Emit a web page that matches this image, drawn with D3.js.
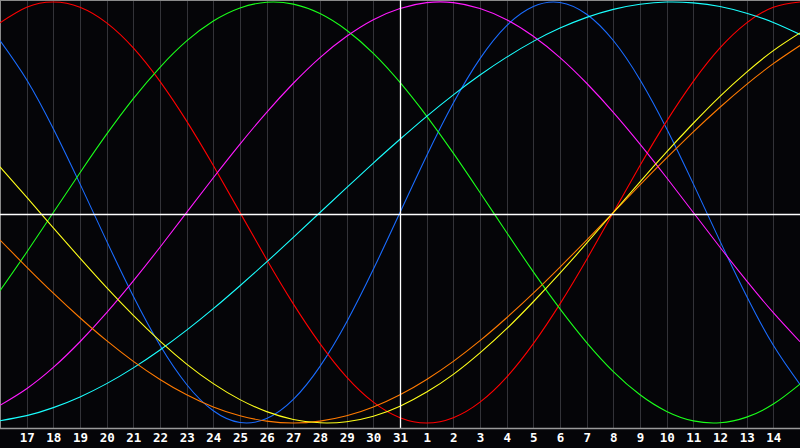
<!DOCTYPE html>
<html>
<head>
<meta charset="utf-8">
<script src="https://cdn.jsdelivr.net/npm/d3@7"></script>
<style>
  html, body { margin: 0; padding: 0; background: #000; }
  svg { display: block; }
</style>
</head>
<body>
<svg id="chart" width="800" height="448"></svg>
<script>
// Day index 0..30 (x=0 is the 16th, x=800 is the 15th of next month)
const dayIndex = d3.range(0, 31);
const dayLabels = ["17","18","19","20","21","22","23","24","25","26","27","28","29","30","31",
                   "1","2","3","4","5","6","7","8","9","10","11","12","13","14"];
const todayIndex = 15; // the "31" marker

// Values in percent for each day index 0..30
const physical = [81.7,63.1,39.8,13.6,-13.6,-39.8,-63.1,-81.7,-94.2,-99.8,-97.9,-88.8,-73.1,-52.0,-27.0,0,27.0,52.0,73.1,88.8,97.9,99.8,94.2,81.7,63.1,39.8,13.6,-13.6,-39.8,-63.1,-81.7];
const emotional = [90.1,97.5,100,97.5,90.1,78.2,62.3,43.4,22.3,0,-22.3,-43.4,-62.3,-78.2,-90.1,-97.5,-100,-97.5,-90.1,-78.2,-62.3,-43.4,-22.3,0,22.3,43.4,62.3,78.2,90.1,97.5,100];
const intellectual = [-37.2,-18.9,0,18.9,37.2,54.1,69.0,81.5,91.0,97.2,99.9,99.0,94.5,86.6,75.6,61.8,45.8,28.2,9.5,-9.5,-28.2,-45.8,-61.8,-75.6,-86.6,-94.5,-99.0,-99.9,-97.2,-91.0,-81.5];
const intuitive = [-91.6,-83.7,-73.6,-61.4,-47.6,-32.5,-16.5,0,16.5,32.5,47.6,61.4,73.6,83.7,91.6,96.9,99.7,99.7,96.9,91.6,83.7,73.6,61.4,47.6,32.5,16.5,0,-16.5,-32.5,-47.6,-61.4];
const aesthetic = [21.7,7.3,-7.3,-21.7,-35.7,-48.9,-61.1,-72.0,-81.3,-88.9,-94.6,-98.3,-99.9,-99.4,-96.8,-92.0,-85.3,-76.9,-66.7,-55.2,-42.4,-28.8,-14.6,0,14.6,28.8,42.4,55.2,66.7,76.9,85.3];
const awareness = [-13.1,-25.9,-38.3,-50,-60.9,-70.7,-79.3,-86.6,-92.4,-96.6,-99.1,-100,-99.1,-96.6,-92.4,-86.6,-79.3,-70.7,-60.9,-50,-38.3,-25.9,-13.1,0,13.1,25.9,38.3,50,60.9,70.7,79.3];
const spiritual = [-98.9,-96.5,-92.7,-87.6,-81.3,-73.8,-65.3,-55.9,-45.7,-34.8,-23.5,-11.8,0,11.8,23.5,34.8,45.7,55.9,65.3,73.8,81.3,87.6,92.7,96.5,98.9,100.0,99.6,97.9,94.7,90.3,84.6];

const seriesList = [
  {name: "physical", values: physical, color: "#1a6cff"},
  {name: "emotional", values: emotional, color: "#ff0000"},
  {name: "intellectual", values: intellectual, color: "#1aff1a"},
  {name: "intuitive", values: intuitive, color: "#ff1aff"},
  {name: "spiritual", values: spiritual, color: "#1affff"},
  {name: "awareness", values: awareness, color: "#ff7a00"},
  {name: "aesthetic", values: aesthetic, color: "#ffff1a"}
];

const W = 800, plotBottom = 428, zeroLineY = 214;
const svg = d3.select("#chart");
svg.append("rect").attr("width", 800).attr("height", 448).attr("fill", "#050508");

const x = d3.scaleLinear().domain([0, 30]).range([0, W]);
const y = d3.scaleLinear().domain([-100, 100]).range([423, 2]);

// vertical grid lines
const gridG = svg.append("g");
gridG.selectAll("line").data(d3.range(1, 31)).join("line")
  .attr("x1", d => Math.round(x(d)) + 0.5).attr("x2", d => Math.round(x(d)) + 0.5)
  .attr("y1", 0).attr("y2", plotBottom)
  .attr("stroke", "#333338").attr("stroke-width", 1);

// border top/left
svg.append("line").attr("x1", 0).attr("x2", W).attr("y1", 0.5).attr("y2", 0.5).attr("stroke", "#8a8a8a");
svg.append("line").attr("x1", 0.5).attr("x2", 0.5).attr("y1", 0).attr("y2", plotBottom).attr("stroke", "#8a8a8a");

// curves
const line = d3.line().x((d, i) => x(dayIndex[i])).y(d => y(d)).curve(d3.curveNatural);
svg.append("g").selectAll("path").data(seriesList).join("path")
  .attr("d", s => line(s.values))
  .attr("fill", "none")
  .attr("stroke", s => s.color)
  .attr("stroke-width", 1.1);

// zero line and today marker
svg.append("line").attr("x1", 0).attr("x2", W).attr("y1", zeroLineY + 0.5).attr("y2", zeroLineY + 0.5)
  .attr("stroke", "#ffffff").attr("stroke-width", 1.3);
svg.append("line").attr("x1", Math.round(x(todayIndex)) + 0.5).attr("x2", Math.round(x(todayIndex)) + 0.5)
  .attr("y1", 0).attr("y2", plotBottom).attr("stroke", "#ffffff").attr("stroke-width", 1.3);

// bottom axis line
svg.append("line").attr("x1", 0).attr("x2", W).attr("y1", plotBottom + 0.5).attr("y2", plotBottom + 0.5)
  .attr("stroke", "#9a9a9a").attr("stroke-width", 1.5);

// axis labels
const axis = d3.axisBottom(x)
  .tickValues(d3.range(1, 30))
  .tickFormat((d, i) => dayLabels[i])
  .tickSize(0).tickPadding(0);
const axG = svg.append("g").attr("transform", `translate(0,${plotBottom + 5})`).call(axis);
axG.select(".domain").remove();
axG.selectAll("text")
  .attr("fill", "#ffffff")
  .attr("font-family", "'DejaVu Sans Mono', monospace")
  .attr("font-weight", "bold")
  .attr("font-size", 12.5);
</script>
</body>
</html>
